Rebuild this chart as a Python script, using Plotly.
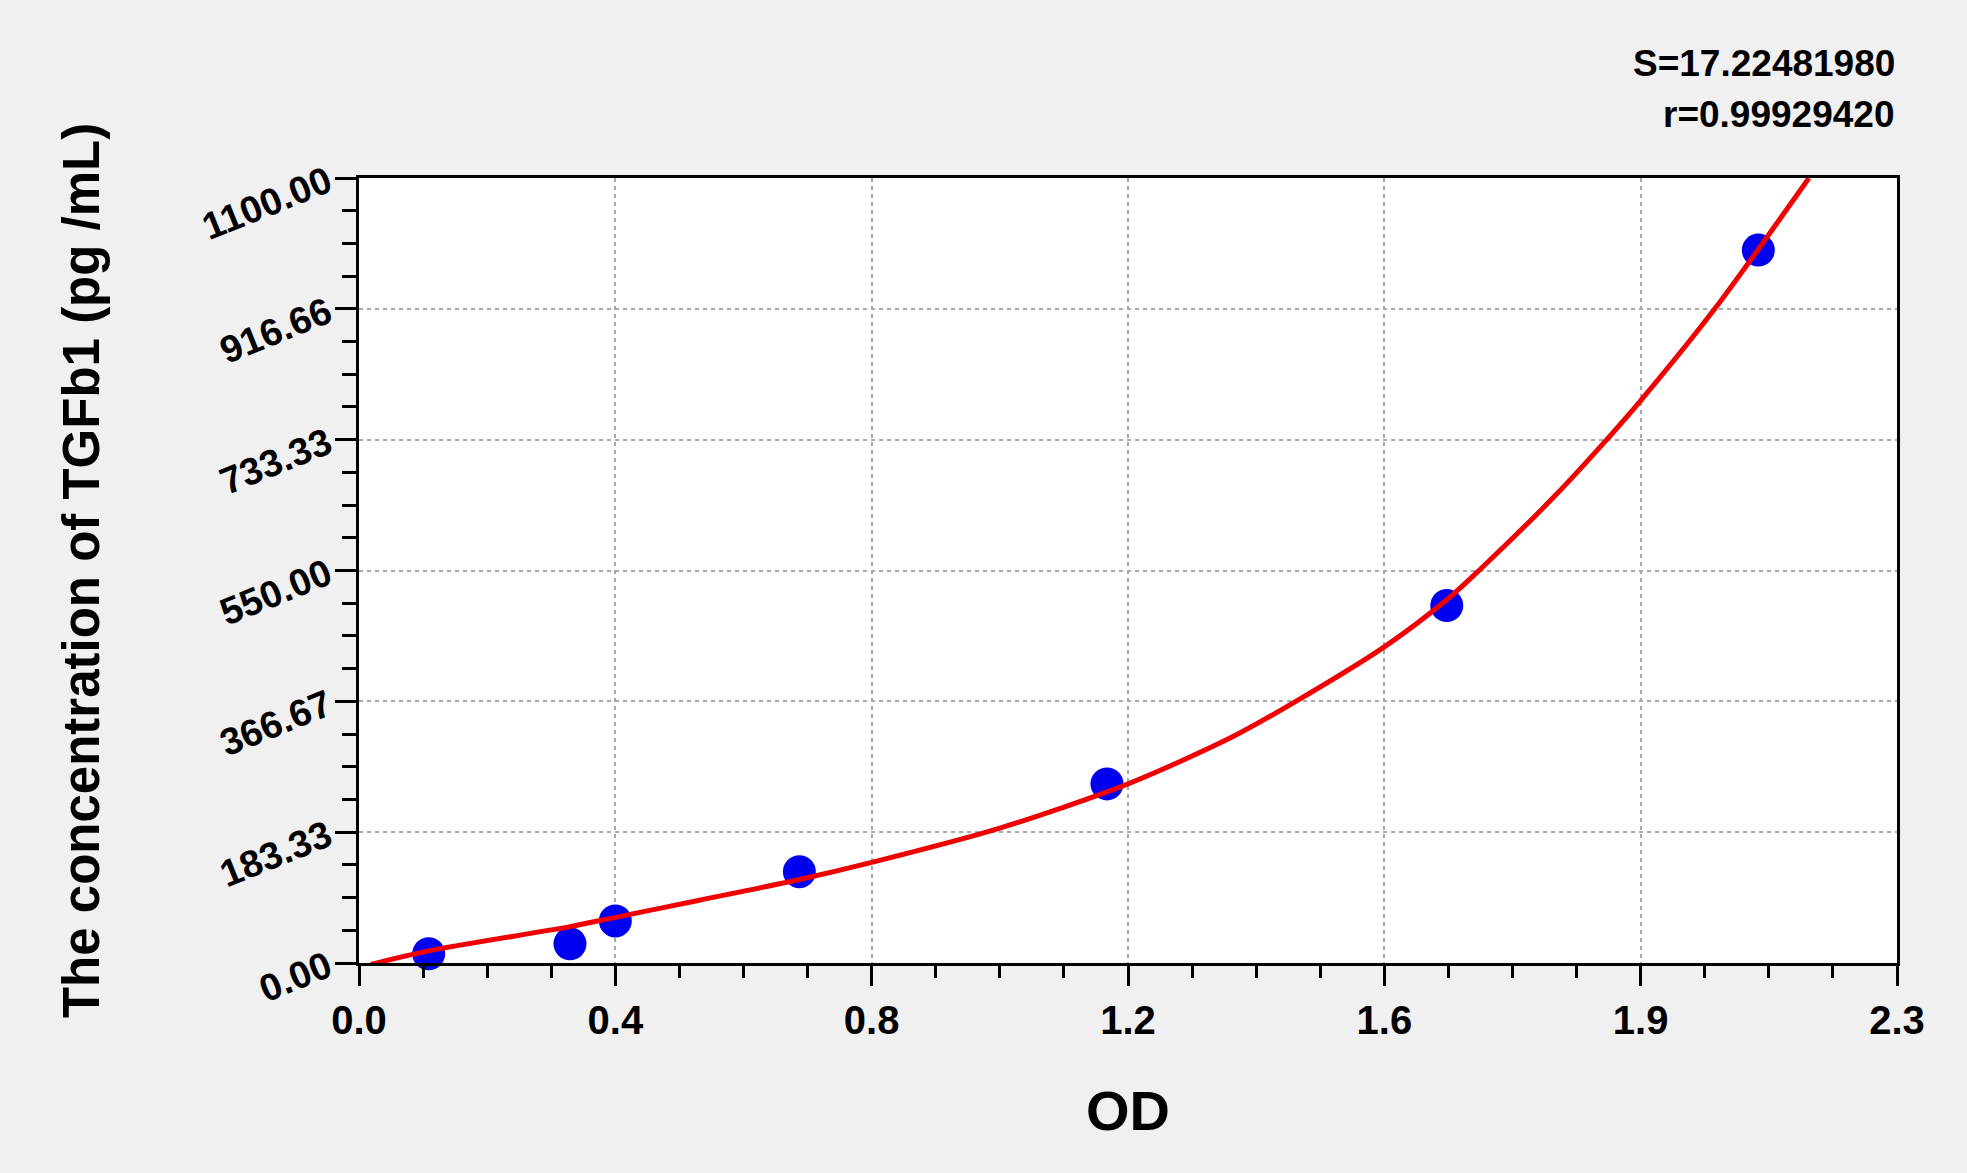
import numpy as np
import plotly.graph_objects as go

# standard points (OD, pg/mL)
od_points = [0.106, 0.321, 0.390, 0.670, 1.138, 1.655, 2.129]
conc_points = [13, 27, 59, 128, 251, 501, 999]

# fitted curve
od_curve = [0.018, 0.106, 0.321, 0.390, 0.518, 0.670, 0.780, 0.975, 1.170,
            1.329, 1.426, 1.560, 1.655, 1.704, 1.820, 1.898, 1.950, 2.063, 2.206]
conc_curve = [-2, 17, 51, 64, 88, 117, 141, 189, 251,
              317, 367, 443, 509, 550, 655, 733, 788, 917, 1100]

x_ticktext = ["0.0", "0.4", "0.8", "1.2", "1.6", "1.9", "2.3"]
y_ticktext = ["0.00", "183.33", "366.67", "550.00", "733.33", "916.66", "1100.00"]
x_max = 2.34
y_max = 1100

s_value = "S=17.22481980"
r_value = "r=0.99929420"
y_title = "The concentration of TGFb1 (pg /mL)"

FONT = "Liberation Sans, Arial, sans-serif"

fig = go.Figure()

fig.add_trace(go.Scatter(
    x=od_points, y=conc_points, mode="markers",
    marker=dict(color="#0000f0", size=33, line=dict(width=0)),
    cliponaxis=False, showlegend=False,
))
fig.add_trace(go.Scatter(
    x=od_curve, y=conc_curve, mode="lines",
    line=dict(color="#f00000", width=5, shape="spline", smoothing=0.8),
    showlegend=False,
))

fig.update_xaxes(
    range=[0, x_max],
    tickvals=np.linspace(0, x_max, len(x_ticktext)),
    ticktext=x_ticktext,
    ticks="outside", ticklen=20, tickwidth=3, tickcolor="black",
    minor=dict(dtick=x_max / 24, tick0=0, ticks="outside", ticklen=12,
               tickwidth=3, tickcolor="black", showgrid=False),
    showline=True, linecolor="black", linewidth=3, mirror=True,
    showgrid=True, gridcolor="#a8a8a8", gridwidth=1.5, griddash="4px,4px",
    zeroline=False,
    tickfont=dict(family=FONT, size=40, color="black", weight="bold"),
    title=dict(text="OD", standoff=50,
               font=dict(family=FONT, size=56, color="black", weight="bold")),
)
fig.update_yaxes(
    range=[0, y_max],
    tickvals=np.linspace(0, y_max, len(y_ticktext)),
    ticktext=y_ticktext,
    tickangle=-22,
    ticks="outside", ticklen=21, tickwidth=3, tickcolor="black",
    minor=dict(dtick=y_max / 24, tick0=0, ticks="outside", ticklen=14,
               tickwidth=3, tickcolor="black", showgrid=False),
    showline=True, linecolor="black", linewidth=3, mirror=True,
    showgrid=True, gridcolor="#a8a8a8", gridwidth=1.5, griddash="4px,4px",
    zeroline=False,
    tickfont=dict(family=FONT, size=38, color="black", weight="bold"),
)

# y title placed as rotated text left of the tick labels
fig.add_annotation(text=y_title, xref="paper", yref="paper", x=-0.1804, y=0.5,
                   xanchor="center", yanchor="middle", textangle=-90, showarrow=False,
                   font=dict(family=FONT, size=51, color="black", weight="bold"))

fig.add_annotation(text=s_value, xref="paper", yref="paper", x=1.0, y=1.0,
                   xanchor="right", yanchor="middle", yshift=115, showarrow=False,
                   font=dict(family=FONT, size=37, color="black", weight="bold"))
fig.add_annotation(text=r_value, xref="paper", yref="paper", x=1.0, y=1.0,
                   xanchor="right", yanchor="middle", yshift=64, showarrow=False,
                   font=dict(family=FONT, size=37, color="black", weight="bold"))

fig.update_layout(
    width=1967, height=1173,
    margin=dict(l=359, r=70, t=178, b=210, autoexpand=False),
    paper_bgcolor="#f0f0f0", plot_bgcolor="white",
)

fig.write_html("out.html", config={"displayModeBar": False},
               post_script="document.body.style.margin='0';"
                           "document.body.style.overflow='hidden';")
